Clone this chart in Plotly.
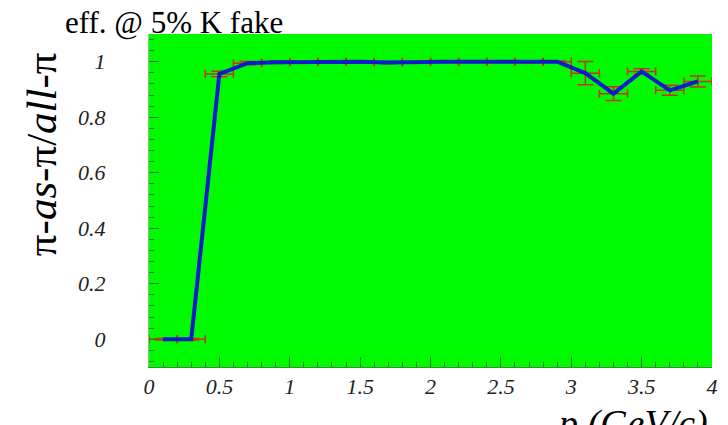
import plotly.graph_objects as go

p_centers = [0.1, 0.3, 0.5, 0.7, 0.9, 1.1, 1.3, 1.5, 1.7, 1.9, 2.1, 2.3, 2.5, 2.7, 2.9,
             3.1, 3.3, 3.5, 3.7, 3.9]
eff = [0.0, 0.0, 0.956, 0.995, 0.998, 0.999, 1.0, 1.0, 0.997, 1.0, 1.0, 1.0, 1.0, 1.0, 1.0,
       0.959, 0.885, 0.965, 0.897, 0.929]
eff_err = [0.003, 0.003, 0.01, 0.006, 0.004, 0.003, 0.002, 0.003, 0.004, 0.003, 0.003, 0.003,
           0.003, 0.003, 0.003, 0.042, 0.025, 0.01, 0.018, 0.02]
p_halfwidth = [0.1] * len(p_centers)

x_ticks = [0, 0.5, 1, 1.5, 2, 2.5, 3, 3.5, 4]
x_ticklabels = ["0", "0.5", "1", "1.5", "2", "2.5", "3", "3.5", "4"]
y_ticks = [0, 0.2, 0.4, 0.6, 0.8, 1]
y_ticklabels = ["0", "0.2", "0.4", "0.6", "0.8", "1"]

serif = "Liberation Serif"

fig = go.Figure()
fig.add_trace(go.Scatter(
    x=p_centers, y=eff, mode="lines",
    line=dict(color="#0a1ec8", width=4),
    error_x=dict(type="data", array=p_halfwidth, color="#c8321e", thickness=1.5, width=4),
    error_y=dict(type="data", array=eff_err, color="#c8321e", thickness=1.5, width=8),
    showlegend=False,
))

fig.update_layout(
    width=728, height=425,
    margin=dict(l=149, r=10, t=34, b=58),
    paper_bgcolor="white",
    plot_bgcolor="#00fa00",
    showlegend=False,
    xaxis=dict(
        range=[0, 4], tickvals=x_ticks, ticktext=["<i>%s</i>" % t for t in x_ticklabels],
        ticks="inside", ticklen=10, tickcolor="#2a7a2a", tickwidth=1,
        minor=dict(dtick=0.1, ticks="inside", ticklen=5, tickcolor="#2a7a2a"),
        showgrid=False, zeroline=False, showline=True, linecolor="#3a8a3a", linewidth=1,
        tickfont=dict(family=serif, size=22, color="#222"),
        ticklabelstandoff=0,
    ),
    yaxis=dict(
        range=[-0.1, 1.1], tickvals=y_ticks, ticktext=["<i>%s</i>" % t for t in y_ticklabels],
        ticks="inside", ticklen=10, tickcolor="#2a7a2a", tickwidth=1,
        minor=dict(dtick=0.04, tick0=0, ticks="inside", ticklen=5, tickcolor="#2a7a2a"),
        showgrid=False, zeroline=False, showline=True, linecolor="#8ac88a", linewidth=1,
        tickfont=dict(family=serif, size=22, color="#222"),
        ticklabelstandoff=38,
    ),
)

fig.add_annotation(text="eff. @ 5% K fake", xref="paper", yref="paper",
                   x=-87 / 569, y=(367 - 42) / 333, xanchor="left", yanchor="bottom",
                   showarrow=False, font=dict(family=serif, size=31, color="black"))
fig.add_annotation(text="π-<i>as</i>-π/<i>all</i>-π", xref="paper", yref="paper",
                   x=-109 / 569, y=(367 - 154) / 333, xanchor="center", yanchor="middle",
                   textangle=-90, showarrow=False,
                   font=dict(family=serif, size=43, color="black"))
fig.add_annotation(text="<i>p (GeV/c)</i>", xref="paper", yref="paper",
                   x=1.0 - 2 / 569, y=-33 / 333, xanchor="right", yanchor="top",
                   showarrow=False, font=dict(family=serif, size=38, color="black"))

fig.write_html("out.html")
